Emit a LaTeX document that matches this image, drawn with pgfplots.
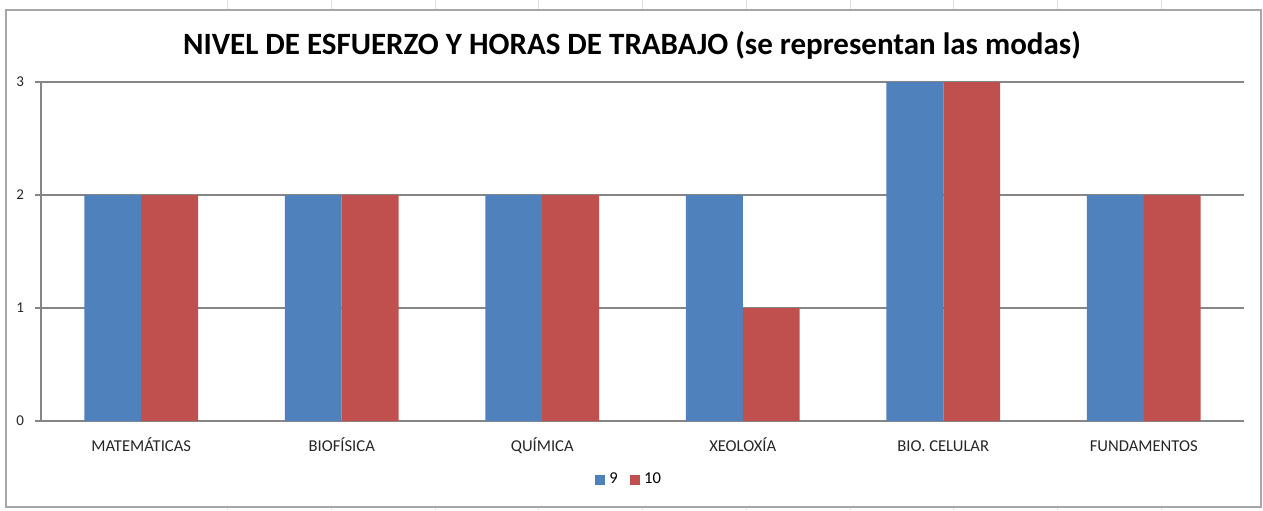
\documentclass[border=0pt]{standalone}
\usepackage{pgfplots}
\pgfplotsset{compat=1.18}
\usepackage{fontspec}
\setmainfont{Carlito}
\definecolor{sblue}{HTML}{4F81BD}
\definecolor{sred}{HTML}{C0504D}
\definecolor{axgray}{HTML}{868686}
\definecolor{bordergray}{HTML}{A6A6A6}
\definecolor{cellgray}{HTML}{E0E0E0}
\begin{document}
\begin{tikzpicture}[x=1pt,y=1pt]
% page bounds
\path[use as bounding box] (0,0) rectangle (631.5,255);
% spreadsheet cell lines
\foreach \c in {227,331,435,538,642,746,850,953,1057,1161}{
  \draw[cellgray,line width=0.5pt] (\c/2,250) -- (\c/2,255);
  \draw[cellgray,line width=0.5pt] (\c/2,0) -- (\c/2,1.5);
}
% chart border
\draw[bordergray,line width=1pt] (3,1.5) rectangle (630.5,249.8);
\node[font=\fontsize{15.5}{18}\selectfont\bfseries] at (316,232.5) {NIVEL DE ESFUERZO Y HORAS DE TRABAJO (se representan las modas)};
\begin{axis}[
  at={(20.5pt,44.5pt)}, anchor=south west,
  scale only axis, width=601.5pt, height=169.5pt,
  xmin=-0.5, xmax=5.5, ymin=0, ymax=3,
  ybar=0pt, bar width=0.284,
  axis x line*=bottom, axis y line*=left,
  axis line style={axgray, line width=0.6pt},
  xtick={0,1,2,3,4,5},
  xticklabels={MATEMÁTICAS,BIOFÍSICA,QUÍMICA,XEOLOXÍA,BIO. CELULAR,FUNDAMENTOS},
  xtick style={draw=none},
  extra x ticks={-0.5,0.5,1.5,2.5,3.5,4.5,5.5},
  extra x tick labels={},
  extra x tick style={tick style={draw=axgray, line width=0.6pt}, major tick length=3pt, tick align=outside},
  ytick={0,1,2,3},
  ymajorgrids, grid style={axgray, line width=0.6pt},
  ytick style={draw=axgray, line width=0.6pt},
  major tick length=3pt, tick align=outside,
  /pgf/number format/assume math mode=true,
  ticklabel style={font=\fontsize{7.5}{9}\selectfont, text=black!85},
  xticklabel style={font=\fontsize{8.3}{9}\selectfont, text height=6pt, text depth=1.5pt, yshift=-2.5pt},
  yticklabel style={xshift=-2pt},
  legend style={at={(0.4896,-0.174)}, anchor=center, draw=none, fill=none,
    font=\fontsize{8.3}{9}\selectfont, legend columns=2,
    /tikz/every even column/.append style={column sep=4pt}},
  legend image code/.code={\fill[#1] (0,-2.6pt) rectangle (5.2pt,2.6pt);},
]
\addplot[fill=sblue, draw=none] coordinates {(0,2) (1,2) (2,2) (3,2) (4,3) (5,2)};
\addplot[fill=sred, draw=none] coordinates {(0,2) (1,2) (2,2) (3,1) (4,3) (5,2)};
\legend{9,10}
\end{axis}
\end{tikzpicture}
\end{document}
